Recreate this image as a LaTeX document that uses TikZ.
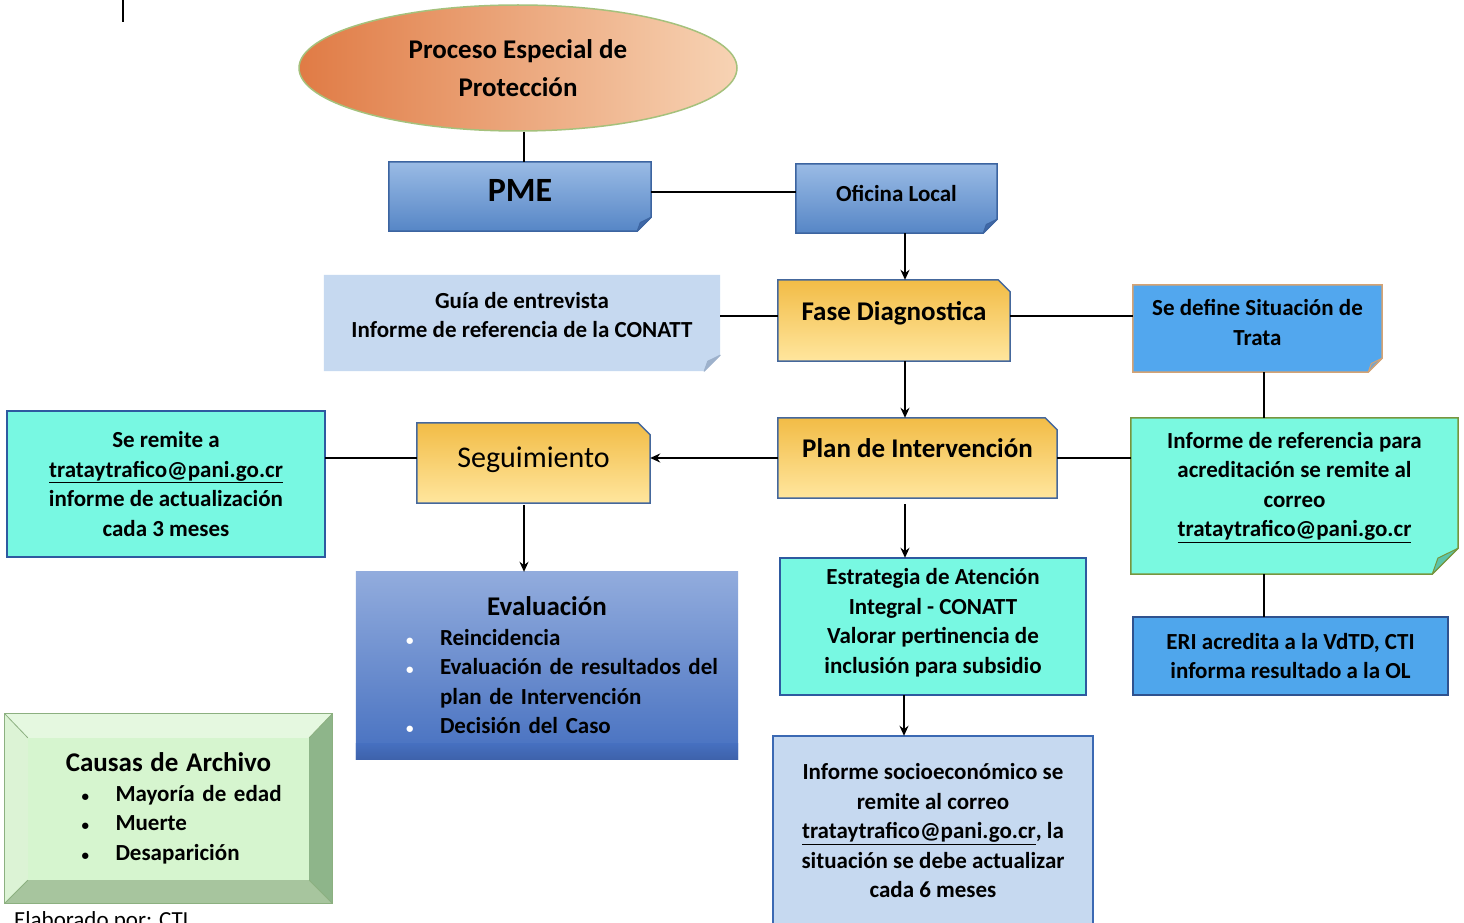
\documentclass[tikz,border=0pt]{standalone}
\usepackage{fontspec}
\setmainfont{Carlito}
\usetikzlibrary{arrows.meta,calc,backgrounds,shapes.geometric}

\definecolor{pmeTop}{HTML}{9ABBE5}
\definecolor{pmeBot}{HTML}{5686C6}
\definecolor{pmeDraw}{HTML}{3C64A0}
\definecolor{pmeFold}{HTML}{3F68A8}
\definecolor{goldTop}{HTML}{F2BC46}
\definecolor{goldBot}{HTML}{FFE69E}
\definecolor{goldDraw}{HTML}{44679C}
\definecolor{guiaFill}{HTML}{C6D9F0}
\definecolor{guiaFold}{HTML}{9DB1CB}
\definecolor{sedefFill}{HTML}{52A7EE}
\definecolor{sedefDraw}{HTML}{D6A373}
\definecolor{sedefFold}{HTML}{7FA3C2}
\definecolor{aquaFill}{HTML}{78F8E2}
\definecolor{aquaDraw}{HTML}{2E5AA0}
\definecolor{irefFill}{HTML}{7AF9E0}
\definecolor{irefDraw}{HTML}{77963E}
\definecolor{irefFold}{HTML}{5CC4AA}
\definecolor{eriFill}{HTML}{4FA6EC}
\definecolor{eriDraw}{HTML}{2F528F}
\definecolor{evalTop}{HTML}{92ACDD}
\definecolor{evalBot}{HTML}{4670C0}
\definecolor{evalBand}{HTML}{3E62AB}
\definecolor{socioFill}{HTML}{C6D9F0}
\definecolor{socioDraw}{HTML}{3B69B3}
\definecolor{cCenter}{HTML}{D6F5CF}
\definecolor{cTop}{HTML}{E5F8E0}
\definecolor{cLeft}{HTML}{DCF3D5}
\definecolor{cRight}{HTML}{8EB58A}
\definecolor{cBottom}{HTML}{A7C59E}
\definecolor{cEdge}{HTML}{8CB080}
\definecolor{ellLeft}{HTML}{E07B45}
\definecolor{ellRight}{HTML}{F7D3B4}
\definecolor{ellDraw}{HTML}{A5C17C}

\newcommand\notebg[5]{%
 \path[#2] (#1.north west) -- (#1.north east) -- ($(#1.south east)+(0,-#3)$) -- ($(#1.south east)+(-#3,0)$) -- (#1.south west) -- cycle;
 \path[fill=#4,draw=#5,line width=1pt,line join=round] ($(#1.south east)+(0,-#3)$) -- ($(#1.south east)+(-#3,0)$) -- ($(#1.south east)+(-0.78*#3,-0.62*#3)$) -- cycle;}
\newcommand\chambg[3]{%
 \path[#2] (#1.north west) -- ($(#1.north east)+(-#3,0)$) -- ($(#1.north east)+(0,#3)$) -- (#1.south east) -- (#1.south west) -- cycle;}
\newcommand\smbul{{\fontsize{15}{15}\selectfont •}}

\tikzset{
 box/.style={rectangle, inner sep=0pt, align=center, font=\fontsize{23}{29.5}\selectfont\bfseries},
 bigfont/.style={font=\fontsize{27}{32}\selectfont\bfseries},
 conn/.style={draw=black, line width=1.8pt},
 arr/.style={conn, -{Stealth[length=10pt,width=9pt]}},
 edge/.style={line width=1.5pt},
}

\begin{document}
\begin{tikzpicture}[x=1pt,y=-1pt]
\useasboundingbox (0,0) rectangle (1464,923);

% guide coordinates
\coordinate (gx905) at (905,0);
\coordinate (gx904) at (904,0);
\coordinate (gx524) at (524,0);
\coordinate (gx1264) at (1264,0);
\coordinate (gy192) at (0,192);
\coordinate (gy316) at (0,316);
\coordinate (gy458) at (0,458);
\coordinate (stA) at (123,0);
\coordinate (stB) at (123,22);

% nodes
\node[ellipse, minimum width=438, minimum height=126, inner sep=0pt, align=center,
      left color=ellLeft, right color=ellRight, draw=ellDraw, line width=1.5pt,
      font=\fontsize{27}{38}\selectfont\bfseries] (ell) at (518,68) {Proceso Especial de\\Protección};
\node[box, minimum width=262, minimum height=69, text depth=12pt, font=\fontsize{34}{40}\selectfont\bfseries] (pme) at (520,196.5) {PME};
\node[box, minimum width=201, minimum height=69, text depth=10pt] (ofi) at (896.5,198.5) {Oficina Local};
\node[box, minimum width=396, minimum height=96, text depth=16pt] (guia) at (522,323) {Guía de entrevista\\Informe de referencia de la CONATT};
\node[box, bigfont, minimum width=232, minimum height=81, text depth=19pt] (fase) at (894,320.5) {Fase Diagnostica};
\node[box, minimum width=249, minimum height=87, text depth=12pt] (sedef) at (1257.5,328.5) {Se define Situación de\\Trata};
\node[box, bigfont, minimum width=279, minimum height=80, text depth=20pt] (plan) at (917.5,458) {Plan de Intervención};
\node[box, minimum width=327, minimum height=156, text depth=23pt] (iref) at (1294.5,496) {Informe de referencia para\\acreditación se remite al\\correo\\\underline{trataytrafico@pani.go.cr}};
\node[box, minimum width=315, minimum height=78] (eri) at (1290.5,656) {ERI acredita a la VdTD, CTI\\informa resultado a la OL};
\node[box, minimum width=233, minimum height=80, text depth=12pt, font=\fontsize{30}{34}\selectfont] (seg) at (533.5,463) {Seguimiento};
\node[box, minimum width=318, minimum height=146] (remite) at (166,484) {Se remite a\\\underline{trataytrafico@pani.go.cr}\\informe de actualización\\cada 3 meses};
\node[box, minimum width=382, minimum height=187, text width=370, align=left] (eval) at (547,665.5) {%
\makebox[370pt][c]{\fontsize{27}{32}\selectfont Evaluación}\\
\hspace*{44pt}\makebox[34pt][l]{\textcolor{white}{\smbul}}Reincidencia\\
\hspace*{44pt}\makebox[34pt][l]{\textcolor{white}{\smbul}}Evaluación de resultados del\\
\hspace*{78pt}plan de Intervención\\
\hspace*{44pt}\makebox[34pt][l]{\textcolor{white}{\smbul}}Decisión del Caso};
\node[box, minimum width=306, minimum height=137, text depth=11pt] (estr) at (933,626.5) {Estrategia de Atención\\Integral - CONATT\\Valorar pertinencia de\\inclusión para subsidio};
\node[box, minimum width=320, minimum height=190] (socio) at (933,831) {Informe socioeconómico se\\remite al correo\\\underline{trataytrafico@pani.go.cr}, la\\situación se debe actualizar\\cada 6 meses};
\node[box, minimum width=327, minimum height=189, text width=240, align=left] (causas) at (168.5,808.5) {%
\makebox[240pt][c]{\fontsize{27}{32}\selectfont Causas de Archivo}\\
\hspace*{33pt}\makebox[34pt][l]{\smbul}Mayoría de edad\\
\hspace*{33pt}\makebox[34pt][l]{\smbul}Muerte\\
\hspace*{33pt}\makebox[34pt][l]{\smbul}Desaparición};
\node[anchor=base west, inner sep=0pt, font=\fontsize{23}{28}\selectfont] (elab) at (14,927) {Elaborado por: CTI};

% backgrounds
\begin{scope}[on background layer]
 \fill[white] (0,0) rectangle (1464,923);
 \notebg{pme}{top color=pmeTop,bottom color=pmeBot,draw=pmeDraw,edge}{14}{pmeFold}{pmeDraw}
 \notebg{ofi}{top color=pmeTop,bottom color=pmeBot,draw=pmeDraw,edge}{14}{pmeFold}{pmeDraw}
 \notebg{guia}{fill=guiaFill}{16}{guiaFold}{guiaFold}
 \notebg{sedef}{fill=sedefFill,draw=sedefDraw,edge}{14}{sedefFold}{sedefDraw}
 \notebg{iref}{fill=irefFill,draw=irefDraw,edge}{26}{irefFold}{irefDraw}
 \chambg{fase}{top color=goldTop,bottom color=goldBot,draw=goldDraw,edge}{12}
 \chambg{plan}{top color=goldTop,bottom color=goldBot,draw=goldDraw,edge}{12}
 \chambg{seg}{top color=goldTop,bottom color=goldBot,draw=goldDraw,edge}{12}
 \path[fill=aquaFill,draw=aquaDraw,edge] (remite.north west) rectangle (remite.south east);
 \path[fill=aquaFill,draw=aquaDraw,edge] (estr.north west) rectangle (estr.south east);
 \path[fill=eriFill,draw=eriDraw,edge] (eri.north west) rectangle (eri.south east);
 \path[fill=socioFill,draw=socioDraw,edge] (socio.north west) rectangle (socio.south east);
 \path[top color=evalTop,bottom color=evalBot] (eval.north west) rectangle (eval.south east);
 \path[top color=evalBot,bottom color=evalBand] ($(eval.south west)+(0,-16)$) rectangle (eval.south east);
 % causas bevel
 \path[fill=cTop] (causas.north west) -- (causas.north east) -- ($(causas.north east)+(-23,24)$) -- ($(causas.north west)+(23,24)$) -- cycle;
 \path[fill=cLeft] (causas.north west) -- ($(causas.north west)+(23,24)$) -- ($(causas.south west)+(23,-23)$) -- (causas.south west) -- cycle;
 \path[fill=cRight] (causas.north east) -- ($(causas.north east)+(-23,24)$) -- ($(causas.south east)+(-23,-23)$) -- (causas.south east) -- cycle;
 \path[fill=cBottom] (causas.south west) -- ($(causas.south west)+(23,-23)$) -- ($(causas.south east)+(-23,-23)$) -- (causas.south east) -- cycle;
 \path[fill=cCenter] ($(causas.north west)+(23,24)$) rectangle ($(causas.south east)+(-23,-23)$);
 \path[draw=cEdge,line width=1pt] (causas.north west) rectangle (causas.south east);
 \path[draw=cEdge,line width=0.8pt] (causas.north west) -- ($(causas.north west)+(23,24)$)
   (causas.north east) -- ($(causas.north east)+(-23,24)$)
   (causas.south west) -- ($(causas.south west)+(23,-23)$)
   (causas.south east) -- ($(causas.south east)+(-23,-23)$);
\end{scope}

% connectors
\draw[conn] (stA) -- (stB);
\draw[conn] (ell.south -| gx524) -- (pme.north -| gx524);
\draw[conn] (pme.east |- gy192) -- (ofi.west |- gy192);
\draw[arr] (ofi.south -| gx905) -- (fase.north -| gx905);
\draw[conn] (guia.east |- gy316) -- (fase.west |- gy316);
\draw[conn] (fase.east |- gy316) -- (sedef.west |- gy316);
\draw[conn] (sedef.south -| gx1264) -- (iref.north -| gx1264);
\draw[arr] (fase.south -| gx905) -- (plan.north -| gx905);
\draw[conn] (plan.east |- gy458) -- (iref.west |- gy458);
\draw[conn] (iref.south -| gx1264) -- (eri.north -| gx1264);
\draw[arr] (plan.west |- gy458) -- (seg.east |- gy458);
\draw[conn] (seg.west |- gy458) -- (remite.east |- gy458);
\draw[arr] ($(seg.south -| gx524)+(0,2)$) -- (eval.north -| gx524);
\draw[arr] ($(plan.south -| gx905)+(0,6)$) -- (estr.north -| gx905);
\draw[arr] (estr.south -| gx904) -- (socio.north -| gx904);
\end{tikzpicture}
\end{document}
